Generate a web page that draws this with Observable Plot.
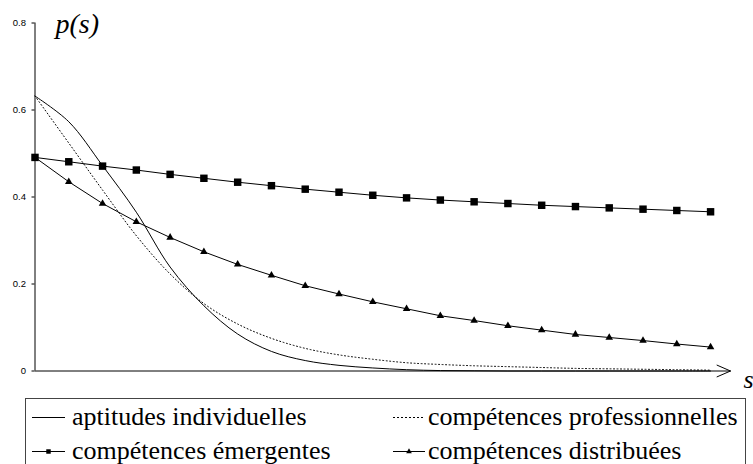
<!DOCTYPE html>
<html>
<head>
<meta charset="utf-8">
<script src="https://cdn.jsdelivr.net/npm/d3@7"></script>
<script src="https://cdn.jsdelivr.net/npm/@observablehq/plot@0.6"></script>
<style>
html, body { margin: 0; padding: 0; background: #fff; width: 753px; height: 464px; overflow: hidden; }
#chart { position: absolute; left: 0; top: 0; }
#legend { position: absolute; left: 0; top: 398px; }
</style>
</head>
<body>
<div id="chart"></div>
<div id="legend"></div>
<script>
// ---- data ----
const sValues = [0, 1, 2, 3, 4, 5, 6, 7, 8, 9, 10, 11, 12, 13, 14, 15, 16, 17, 18, 19, 20];
const aptitudes = [0.632, 0.573, 0.472, 0.365, 0.239, 0.150, 0.085, 0.045, 0.024, 0.013, 0.007, 0.003, 0.001, 0.0005, 0, 0, 0, 0, 0, 0, 0];
const professionnelles = [0.632, 0.524, 0.416, 0.311, 0.223, 0.155, 0.108, 0.075, 0.052, 0.037, 0.027, 0.019, 0.015, 0.012, 0.010, 0.008, 0.006, 0.005, 0.004, 0.003, 0.002];
const emergentes = [0.491, 0.481, 0.471, 0.462, 0.452, 0.443, 0.434, 0.426, 0.418, 0.411, 0.404, 0.398, 0.393, 0.389, 0.385, 0.381, 0.378, 0.375, 0.372, 0.369, 0.366];
const distribuees = [0.491, 0.435, 0.385, 0.343, 0.307, 0.274, 0.245, 0.220, 0.196, 0.177, 0.159, 0.143, 0.127, 0.116, 0.104, 0.094, 0.084, 0.077, 0.070, 0.062, 0.055];
const yTicks = [0, 0.2, 0.4, 0.6, 0.8];
const yTickLabels = ["0", "0.2", "0.4", "0.6", "0.8"];
const seriesNames = ["aptitudes individuelles", "compétences professionnelles", "compétences émergentes", "compétences distribuées"];
const xAxisEnd = 20.59;

const rows = sValues.map((s, i) => ({
  s,
  aptitudes: aptitudes[i],
  professionnelles: professionnelles[i],
  emergentes: emergentes[i],
  distribuees: distribuees[i]
}));

const serif = "'Liberation Serif', 'Times New Roman', Times, serif";

const chart = Plot.plot({
  width: 753,
  height: 398,
  marginLeft: 34.5,
  marginRight: 23,
  marginTop: 22.5,
  marginBottom: 27.5,
  x: { domain: [0, xAxisEnd], axis: null },
  y: { domain: [0, 0.8], axis: null },
  style: { fontFamily: "'Liberation Sans', Arial, sans-serif", background: "#fff", overflow: "visible", color: "#000" },
  marks: [
    Plot.axisY({ ticks: yTicks, tickFormat: d => yTickLabels[yTicks.indexOf(d)], tickSize: 3, tickPadding: 6, fontSize: 9.5, label: null, stroke: "#000", strokeWidth: 1 }),
    Plot.ruleX([0], { y1: 0, y2: 0.8, stroke: "#000", strokeWidth: 1 }),
    Plot.arrow([{ x1: 0, x2: xAxisEnd, y: 0 }], { x1: "x1", x2: "x2", y1: "y", y2: "y", headAngle: 47, headLength: 22, stroke: "#000", strokeWidth: 1 }),
    Plot.line(rows, { x: "s", y: "aptitudes", curve: "catmull-rom", stroke: "#000", strokeWidth: 1 }),
    Plot.line(rows, { x: "s", y: "professionnelles", curve: "catmull-rom", stroke: "#000", strokeWidth: 1, strokeDasharray: "1,2.5" }),
    Plot.line(rows, { x: "s", y: "distribuees", stroke: "#000", strokeWidth: 1 }),
    Plot.dot(rows.filter(d => d.s > 0), { x: "s", y: "distribuees", symbol: "triangle", r: 2.8, fill: "#000", stroke: "none" }),
    Plot.line(rows, { x: "s", y: "emergentes", stroke: "#000", strokeWidth: 1 }),
    Plot.dot(rows, { x: "s", y: "emergentes", symbol: "square", r: 4.2, fill: "#000", stroke: "none" }),
    Plot.text(["p(s)"], { text: d => d, frameAnchor: "top-left", dx: 20.5, dy: 9.5, textAnchor: "start", lineAnchor: "bottom", fontFamily: serif, fontStyle: "italic", fontSize: 28, fill: "#000" }),
    Plot.text(["s"], { text: d => d, frameAnchor: "bottom-right", dx: 18, dy: 16.5, textAnchor: "middle", lineAnchor: "bottom", fontFamily: serif, fontStyle: "italic", fontSize: 26, fill: "#000" })
  ]
});
document.getElementById("chart").appendChild(chart);

// ---- legend (below the plot) ----
const lg = d3.select("#legend").append("svg")
  .attr("width", 753).attr("height", 66)
  .style("display", "block");
lg.append("rect").attr("x", 25.5).attr("y", 0.5).attr("width", 720).attr("height", 120)
  .attr("fill", "none").attr("stroke", "#444").attr("stroke-width", 1);

const items = [
  { name: seriesNames[0], col: 0, row: 0, dash: null, sym: null },
  { name: seriesNames[1], col: 1, row: 0, dash: "2,2", sym: null },
  { name: seriesNames[2], col: 0, row: 1, dash: null, sym: "square" },
  { name: seriesNames[3], col: 1, row: 1, dash: null, sym: "triangle" }
];
const colX = [[32, 65, 72], [393, 425, 428]];
const rowBase = [27, 61];
items.forEach(it => {
  const [x1, x2, tx] = colX[it.col];
  const yb = rowBase[it.row];
  const ly = yb - 7.5;
  const g = lg.append("g");
  const ln = g.append("line").attr("x1", x1).attr("x2", x2).attr("y1", ly).attr("y2", ly)
    .attr("stroke", "#000").attr("stroke-width", 1);
  if (it.dash) ln.attr("stroke-dasharray", it.dash);
  const cx = (x1 + x2) / 2;
  if (it.sym === "square") {
    g.append("path").attr("d", d3.symbol(d3.symbolSquare, 20)()).attr("transform", `translate(${cx},${ly})`).attr("fill", "#000");
  } else if (it.sym === "triangle") {
    g.append("path").attr("d", d3.symbol(d3.symbolTriangle, 14)()).attr("transform", `translate(${cx},${ly})`).attr("fill", "#000");
  }
  g.append("text").attr("x", tx).attr("y", yb).text(it.name)
    .attr("font-family", serif)
    .attr("font-size", 26).attr("fill", "#000");
});
</script>
</body>
</html>
